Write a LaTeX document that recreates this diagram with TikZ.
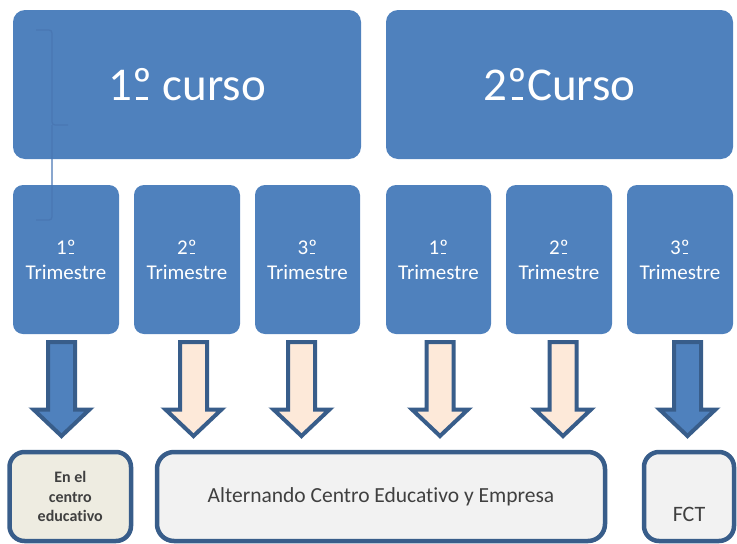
\documentclass[tikz,border=0pt]{standalone}
\usepackage{fontspec}
\setmainfont{Carlito}[Ligatures={NoCommon}]
\definecolor{boxblue}{HTML}{4F81BD}
\definecolor{edgeblue}{HTML}{385D8A}
\definecolor{peach}{HTML}{FDE9D9}
\definecolor{paleg}{HTML}{F2F2F2}
\definecolor{beige}{HTML}{EEECE1}
\definecolor{bracketblue}{HTML}{4977B3}
\definecolor{darktext}{HTML}{404040}
\newcommand{\ordo}{\ooalign{º\cr\hidewidth\rule[0.01em]{0.24em}{0.055em}\hidewidth\cr}}
\newcommand{\blkarrow}[2]{%
  \draw[blockarrow, fill=#2] (#1-13.5,342) -- (#1+13.5,342) -- (#1+13.5,409.5) -- (#1+28,409.5)
    -- (#1,436) -- (#1-28,409.5) -- (#1-13.5,409.5) -- cycle;}
\begin{document}
\begin{tikzpicture}[x=1pt,y=-1pt,
  topbox/.style={fill=boxblue, rounded corners=12pt, minimum height=149pt,
    text=white, font=\fontsize{47}{56}\selectfont, inner sep=0pt},
  tribox/.style={fill=boxblue, rounded corners=10pt, minimum height=149pt,
    text=white, font=\fontsize{21}{25}\selectfont, align=center, inner sep=0pt},
  bottombox/.style={draw=edgeblue, line width=4.5pt, rounded corners=15pt,
    minimum height=89pt, text=darktext, inner sep=0pt, align=center},
  blockarrow/.style={draw=edgeblue, line width=4pt, line join=miter},
  bracketline/.style={draw=bracketblue, line width=1.3pt, rounded corners=3pt}
]
\useasboundingbox (0,0) rectangle (737,544);

% top boxes
\node[topbox, minimum width=348pt] (c1) at (187,84.5) {1\ordo{} curso};
\node[topbox, minimum width=347pt] (c2) at (559.5,84.5) {2\ordo{}Curso};

% trimester boxes
\node[tribox, minimum width=106pt] (t1) at (66,259.5) {1\ordo\\Trimestre};
\node[tribox, minimum width=106pt] (t2) at (187,259.5) {2\ordo\\Trimestre};
\node[tribox, minimum width=105pt] (t3) at (307.5,259.5) {3\ordo\\Trimestre};
\node[tribox, minimum width=105pt] (t4) at (438.5,259.5) {1\ordo\\Trimestre};
\node[tribox, minimum width=106pt] (t5) at (559,259.5) {2\ordo\\Trimestre};
\node[tribox, minimum width=106pt] (t6) at (680,259.5) {3\ordo\\Trimestre};

% bracket connector
\coordinate (bA) at (36,30);
\coordinate (bB) at (52,30);
\coordinate (bC) at (52,125);
\coordinate (bD) at (68,125);
\coordinate (bE) at (52,220);
\coordinate (bF) at (36,220);
\draw[bracketline] (bA) -- (bB) -- (bC) -- (bD);
\draw[bracketline] (bC) -- (bE) -- (bF);

% block arrows
\blkarrow{61.5}{boxblue}
\blkarrow{193.5}{peach}
\blkarrow{301.5}{peach}
\blkarrow{440}{peach}
\blkarrow{563}{peach}
\blkarrow{687.5}{boxblue}

% bottom boxes
\node[bottombox, fill=beige, minimum width=121.5pt,
  font=\bfseries\fontsize{16}{19.5}\selectfont] (b1) at (70.25,496.5)
  {En el\\centro\\educativo};
\node[bottombox, fill=paleg, minimum width=448pt, rounded corners=17pt,
  font=\fontsize{21.5}{26}\selectfont] (b2) at (381,496.5)
  {Alternando Centro Educativo y Empresa};
\node[bottombox, fill=paleg, minimum width=90pt] (b3) at (689,496.5) {};
\node[anchor=base, text=darktext, inner sep=0pt,
  font=\fontsize{22}{26}\selectfont] (fct) at (689,521) {FCT};
\end{tikzpicture}
\end{document}
